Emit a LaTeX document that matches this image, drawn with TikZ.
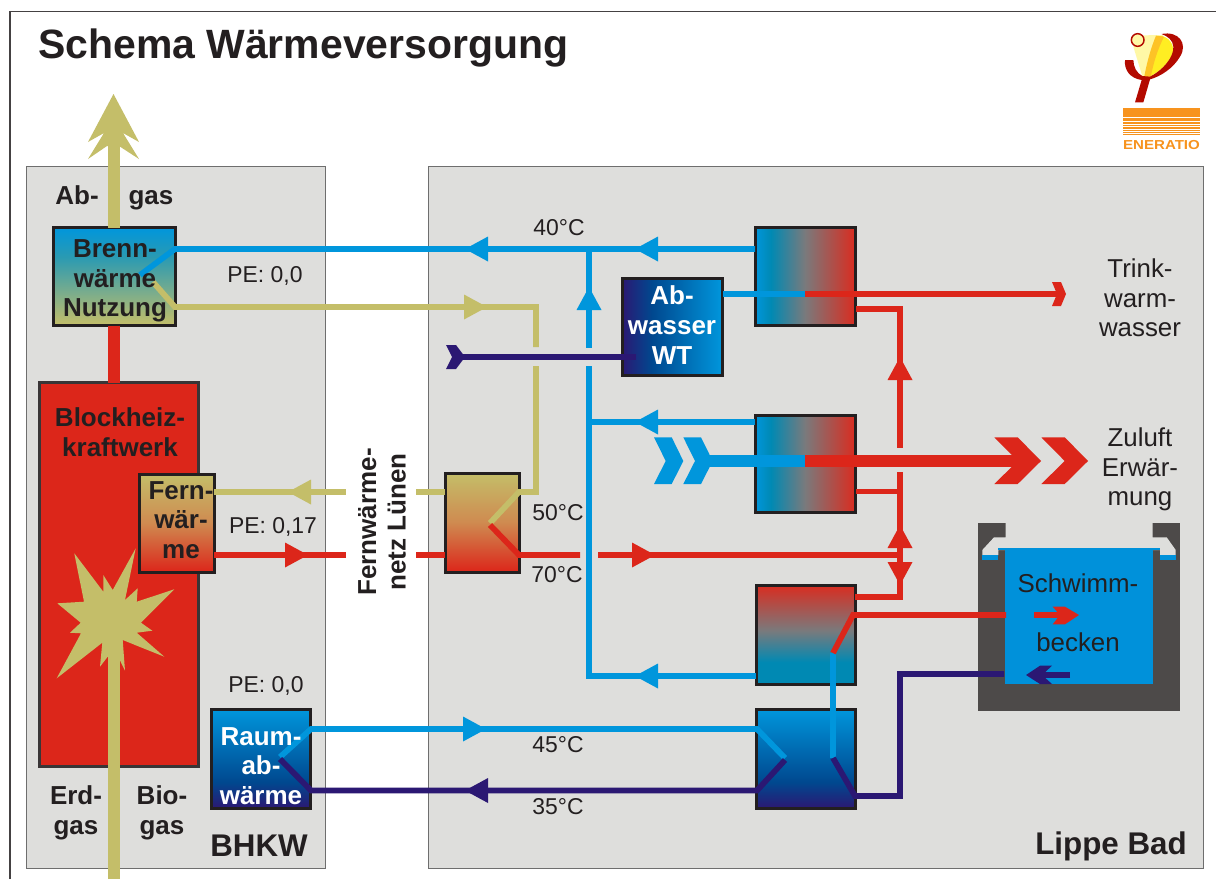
\documentclass[tikz,border=0pt]{standalone}
\usepackage{fontspec}
\usepackage{graphicx}
\setmainfont{Liberation Sans}
\definecolor{cblue}{HTML}{0096DC}
\definecolor{cdark}{HTML}{2B1873}
\definecolor{cred}{HTML}{DC261A}
\definecolor{colive}{HTML}{C4BE69}
\definecolor{cpanel}{HTML}{DEDEDC}
\definecolor{cink}{HTML}{231F20}
\definecolor{cpool}{HTML}{4D4A49}
\definecolor{cwater}{HTML}{0091DA}
\definecolor{cframe}{HTML}{6E6E6E}
\definecolor{lred}{HTML}{B30A00}
\definecolor{lpale}{HTML}{FFF8A6}
\definecolor{lyel}{HTML}{FFEE22}
\definecolor{lorg}{HTML}{FDC326}
\definecolor{lstripe}{HTML}{F7931E}
\definecolor{tealx}{HTML}{0089B3}
\definecolor{grayx}{HTML}{7A7A7C}
\definecolor{redx}{HTML}{D92C20}
\definecolor{navyx}{HTML}{00488F}
\definecolor{tealb}{HTML}{2A9AB2}
\definecolor{orgx}{HTML}{CF8A50}
\pgfdeclarehorizontalshading{shxh}{100bp}{color(0bp)=(cblue);color(25bp)=(cblue);color(33bp)=(tealx);color(50bp)=(grayx);color(75bp)=(redx);color(100bp)=(redx)}
\pgfdeclareverticalshading{shxv}{100bp}{color(0bp)=(tealx);color(25bp)=(tealx);color(36bp)=(tealx);color(52bp)=(grayx);color(75bp)=(redx);color(100bp)=(redx)}
\pgfdeclareverticalshading{scold}{100bp}{color(0bp)=(cdark);color(25bp)=(cdark);color(38bp)=(navyx);color(75bp)=(cblue);color(100bp)=(cblue)}
\pgfdeclarehorizontalshading{swaste}{100bp}{color(0bp)=(cdark);color(25bp)=(cdark);color(40bp)=(navyx);color(75bp)=(cblue);color(100bp)=(cblue)}
\pgfdeclareverticalshading{sbrenn}{100bp}{color(0bp)=(colive);color(25bp)=(colive);color(60bp)=(tealb);color(75bp)=(cblue);color(100bp)=(cblue)}
\pgfdeclareverticalshading{sfern}{100bp}{color(0bp)=(cred);color(25bp)=(cred);color(50bp)=(orgx);color(75bp)=(colive);color(100bp)=(colive)}
\newcommand\flowtri[3]{\fill[#1,shift={(#2)},rotate=#3] (0,0)--(-23,12.5)--(-23,-12.5)--cycle;}
\tikzset{
  panel/.style={draw=cframe,fill=cpanel,line width=0.7pt},
  boxed/.style 2 args={draw=cink,line width=2.25pt,inner sep=0pt,outer sep=0pt,minimum width=#1*0.75pt,minimum height=#2*0.75pt},
  pipe/.style={line width=4.3pt},
  shaft/.style={line width=9pt},
  bold lab/.style={font=\fontsize{19.5}{22.2}\selectfont\bfseries,align=center,inner sep=0pt,text=cink},
  white lab/.style={font=\fontsize{19.5}{22.2}\selectfont\bfseries,align=center,inner sep=0pt,text=white},
  plain lab/.style={font=\fontsize{19.4}{22}\selectfont,align=center,inner sep=0pt,text=cink},
  small lab/.style={font=\fontsize{17.2}{20}\selectfont,inner sep=0pt,text=cink},
  big lab/.style={font=\fontsize{23.5}{26}\selectfont\bfseries,inner sep=0pt,text=cink},
}
\begin{document}
\begin{tikzpicture}[x=0.75pt,y=-0.75pt]
\useasboundingbox (0,0) rectangle (1216,879);
\fill[white] (0,0) rectangle (1216,879);
\draw[cink!85,line width=0.9pt] (10,879) -- (10,11.5) -- (1216,11.5);
% panels
\node[panel,inner sep=0pt,outer sep=0pt,minimum width=299*0.75pt,minimum height=702*0.75pt] (pbhkw) at (175.5,517) {};
\node[panel,inner sep=0pt,outer sep=0pt,minimum width=775*0.75pt,minimum height=702*0.75pt] (plippe) at (815.5,517) {};
% main plant
\node[boxed={159}{384},fill=cred,draw=cink!90] (bhkw) at (118.5,574.5) {};
% stack and gas
\node[boxed={122}{98},shading=sbrenn] (brenn) at (114,276.5) {};
\coordinate (abtop) at (113.5,140);
\draw[colive,shaft] (abtop) -- (brenn.north -| abtop);
\fill[colive] (113.5,94)--(139,142)--(123,133)--(139,159)--(119,146)--(107,146)--(88,159)--(104,133)--(88,142)--cycle;
\draw[cred,shaft] (brenn.south) -- (brenn.south |- bhkw.north);
% burner star
\fill[colive] (74.3,553.3)--(103.3,591.7)--(103.3,575)--(112.7,590)--(135.7,548.3)--(125,600)--(137.7,588.3)--(136.7,601.7)--(174.3,589.3)--(141,622.7)--(152.3,630.7)--(136.7,632.7)--(164.3,656.7)--(122.7,640)--(125,670.7)--(119.3,659)--(107.7,656.7)--(100,666.7)--(102.3,642.7)--(56.7,678.3)--(81,633.3)--(70,632.7)--(80.7,622.7)--(57.3,603.3)--(84,601.7)--cycle;
\coordinate (gasin) at (113.5,879);
\coordinate (gasend) at (113.5,625);
\draw[colive,shaft] (gasin) -- (gasend);
% boxes
\node[boxed={75}{98},shading=sfern] (fern) at (176.5,523) {};
\node[boxed={99}{99},shading=scold] (raum) at (260.5,758.5) {};
\node[boxed={74}{99},shading=sfern] (fw) at (482,522.5) {};
\node[boxed={100}{97},shading=swaste] (abw) at (672,326.5) {};
\node[boxed={100}{98},shading=shxh] (hx1) at (805,276) {};
\node[boxed={100}{97},shading=shxh] (hx2) at (805,463.5) {};
\node[boxed={99}{99},shading=shxv] (hx3) at (805.5,634.5) {};
\node[boxed={99}{99},shading=scold] (hx4) at (805.5,758.5) {};
% pool
\node[fill=cpool,inner sep=0pt,outer sep=0pt,minimum width=202*0.75pt,minimum height=188*0.75pt] (pool) at (1079,617) {};
\fill[cpanel] (1005.7,523)--(1005.7,537.3)--(994,537.3)--(982.3,550)--(982.3,555)--(998.3,555)--(998.3,550)--(1160,550)--(1160,555)--(1175.7,555)--(1175.7,550)--(1166.7,537.3)--(1152.7,537.3)--(1152.7,523)--cycle;
\fill[cwater] (982.3,555) rectangle (998.3,560);
\fill[cwater] (1160,555) rectangle (1175.7,560);
\draw[cwater,line width=0.8pt] (998.3,549) -- (1160,549);
\node[fill=cwater,inner sep=0pt,outer sep=0pt,minimum width=148*0.75pt,minimum height=135*0.75pt] (water) at (1079,616.5) {};
% coordinates of the pipes
\coordinate (bwb) at (140,275);
\coordinate (bwbo) at (175,249);
\coordinate (bwo) at (153,282);
\coordinate (bwoo) at (175,307);
\coordinate (ocor) at (536,307);
\coordinate (ogap1) at (536,347);
\coordinate (ogap2) at (536,366);
\coordinate (ofw) at (536,492);
\coordinate (fwo) at (519,492);
\coordinate (fwi) at (490,523);
\coordinate (fwj) at (490,525);
\coordinate (fwr) at (519,555);
\coordinate (rgap1) at (580,555);
\coordinate (rgap2) at (598,555);
\coordinate (rend) at (897,555);
\coordinate (lg1) at (346,492);
\coordinate (lg2) at (416,492);
\coordinate (lr1) at (346,555);
\coordinate (lr2) at (416,555);
\coordinate (bv) at (589,249);
\coordinate (bvg1) at (589,348);
\coordinate (bvg2) at (589,366);
\coordinate (bvb) at (589,676);
\coordinate (bv2) at (589,422);
\coordinate (dk0) at (461,357);
\coordinate (dk1) at (636,357);
\coordinate (t1) at (723,294);
\coordinate (t2) at (805,294);
\coordinate (t3) at (1060,294);
\coordinate (hx1r) at (856,309);
\coordinate (rv1) at (900,309);
\coordinate (rv2) at (900,448);
\coordinate (rv3) at (900,472);
\coordinate (rv4) at (900,597);
\coordinate (hx2r) at (856,491.5);
\coordinate (th1) at (705,461);
\coordinate (th2) at (805,461);
\coordinate (th3) at (1020,461);
\coordinate (p1) at (833,653);
\coordinate (p2) at (853,615);
\coordinate (p3) at (1006,615);
\coordinate (p4) at (833,758);
\coordinate (p5) at (855,796);
\coordinate (p6) at (900,796);
\coordinate (p7) at (900,674);
\coordinate (p8) at (1004,674);
\coordinate (ra1) at (280,757);
\coordinate (ra2) at (311,729);
\coordinate (ra3) at (757,729);
\coordinate (ra4) at (785,758);
\coordinate (rd1) at (280,759);
\coordinate (rd2) at (311,790.5);
\coordinate (rd3) at (757,790.5);
\coordinate (rd4) at (785,760);
% olive
\draw[colive,pipe] (bwo) -- (bwoo) -- (ocor) -- (ogap1);
\draw[colive,pipe] (ogap2) -- (ofw) -- (fwo) -- (fwi);
\draw[colive,pipe] (fern.east |- lg1) -- (lg1);
\draw[colive,pipe] (lg2) -- (fw.west |- lg2);
\flowtri{colive}{487,307}{0}
\flowtri{colive}{288,492}{180}
% blue
\draw[cblue,pipe] (bwb) -- (bwbo) -- (hx1.west |- bwbo);
\draw[cblue,pipe] (bv) -- (bvg1);
\draw[cblue,pipe] (bvg2) -- (bvb) -- (hx3.west |- bvb);
\draw[cblue,pipe] (bv2) -- (hx2.west |- bv2);
\flowtri{cblue}{465,249}{180}
\flowtri{cblue}{635,249}{180}
\flowtri{cblue}{589,287}{90}
\flowtri{cblue}{635,422}{180}
\flowtri{cblue}{635,676}{180}
\draw[cblue,pipe] (t1) -- (t2);
\draw[cblue,shaft] (th1) -- (th2);
\fill[cblue] (654,437.3)--(671.7,437.3)--(683.3,461)--(671.7,484)--(654,484)--(665.7,461)--cycle;
\fill[cblue] (683.3,437.3)--(701,437.3)--(712.7,461)--(701,484)--(683.3,484)--(695,461)--cycle;
\draw[cblue,pipe] (ra1) -- (ra2) -- (ra3) -- (ra4);
\flowtri{cblue}{486,729}{0}
\draw[cblue,pipe] (p1) -- (p4);
% dark blue
\draw[cdark,pipe] (dk0) -- (dk1);
\fill[cdark] (446,345)--(456,345)--(465,357)--(456,369)--(446,369)--(452,357)--cycle;
\draw[cdark,pipe] (rd1) -- (rd2) -- (rd3) -- (rd4);
\flowtri{cdark}{465,790.5}{180}
\draw[cdark,pipe] (p4) -- (p5) -- (p6) -- (p7) -- (p8);
% red
\draw[cred,pipe] (fwj) -- (fwr) -- (rgap1);
\draw[cred,pipe] (rgap2) -- (rend);
\draw[cred,pipe] (fern.east |- lr1) -- (lr1);
\draw[cred,pipe] (lr2) -- (fw.west |- lr2);
\flowtri{cred}{308,555}{0}
\flowtri{cred}{655,555}{0}
\draw[cred,pipe] (t2) -- (t3);
\fill[cred] (1052,282)--(1061,282)--(1066,294)--(1061,306)--(1052,306)--(1057,294)--cycle;
\draw[cred,pipe] (hx1r) -- (rv1) -- (rv2);
\draw[cred,pipe] (rv3) -- (rv4) -- (hx3.east |- rv4);
\draw[cred,pipe] (hx2r) -- (hx2r -| rv1);
\flowtri{cred}{900,357}{90}
\flowtri{cred}{900,525}{90}
\flowtri{cred}{900,585}{-90}
\draw[cred,shaft] (th2) -- (th3);
\fill[cred] (994.3,437.3)--(1017.7,437.3)--(1041,461)--(1017.7,484)--(994.3,484)--(1017.7,461)--cycle;
\fill[cred] (1041.3,437.3)--(1064.7,437.3)--(1088,461)--(1064.7,484)--(1041.3,484)--(1064.7,461)--cycle;
\draw[cred,pipe] (p1) -- (p2) -- (p3);
% pool arrows
\draw[cred,pipe] (1034,615) -- (1062,615);
\fill[cred] (1052.7,606.7)--(1065,606.7)--(1079,615)--(1065,624.3)--(1052.7,624.3)--(1060,615)--cycle;
\draw[cdark,pipe] (1070,675) -- (1040,675);
\fill[cdark] (1026,675)--(1040,665.7)--(1052,665.7)--(1042,675)--(1052,684)--(1040,684)--cycle;
% logo
\begin{scope}[shift={(1100,20)},x=0.25pt,y=-0.25pt]
\fill[lpale] (100,80) -- (130,46) -- (190,45) -- (145,176) -- (128,172) -- cycle;
\fill[lyel] (175,48) .. controls (205,45) and (225,75) .. (218,100) .. controls (205,135) and (170,160) .. (145,172) .. controls (150,120) and (165,80) .. (175,48) -- cycle;
\fill[lorg] (168,47) -- (192,50) .. controls (172,90) and (160,130) .. (152,172) -- (132,174) .. controls (140,130) and (152,85) .. (168,47) -- cycle;
\fill[lred] (185,42) .. controls (235,32) and (265,70) .. (240,110) .. controls (220,145) and (180,170) .. (150,178) -- (130,247) -- (105,247) -- (125,180) .. controls (90,175) and (72,150) .. (75,120) -- (100,120) .. controls (100,140) and (110,160) .. (127,168) -- (150,170) .. controls (190,150) and (222,110) .. (220,80) .. controls (218,60) and (205,50) .. (185,42) -- cycle;
\draw[lred,fill=lpale,line width=1.1pt] (113,60) circle [radius=19];
\foreach \a/\b in {265/290,293/302,305/311,314/319,322/326,329/332,335/338,341/344}
  \fill[lstripe] (70,\a) rectangle (300,\b);
\end{scope}
\node[font=\fontsize{9.75}{10}\selectfont\bfseries,text=lstripe,inner sep=0pt] (enr) at (1161.5,145) {\scalebox{1.16}[1]{ENERATIO}};
% texts
\node[font=\fontsize{30.7}{32}\selectfont\bfseries,text=cink,inner sep=0pt,anchor=base west] (title) at (38,58) {Schema Wärmeversorgung};
\node[bold lab,anchor=base] (tab1) at (77,204) {Ab-};
\node[bold lab,anchor=base] (tab2) at (151,204) {gas};
\node[bold lab] (tbr) at (115,281) {Brenn-\\wärme\\Nutzung};
\node[bold lab] (tbh) at (120,432) {Blockheiz-\\kraftwerk};
\node[bold lab] (tfe) at (181,520) {Fern-\\wär-\\me};
\node[white lab] (tra) at (261,766) {Raum-\\ab-\\wärme};
\node[white lab] (tab) at (672,325) {Ab-\\wasser\\WT};
\node[bold lab] (ter) at (76,813) {Erd-\\gas};
\node[bold lab] (tbi) at (162,813) {Bio-\\gas};
\node[big lab] (tbk) at (259,846) {BHKW};
\node[big lab] (tlb) at (1111,846) {Lippe Bad};
\node[small lab] (pe1) at (265,276) {PE: 0,0};
\node[small lab] (pe2) at (273,527) {PE: 0,17};
\node[small lab] (pe3) at (266,686) {PE: 0,0};
\node[small lab] (c40) at (559,228) {40°C};
\node[small lab] (c50) at (558,513) {50°C};
\node[small lab] (c70) at (557,575) {70°C};
\node[small lab] (c45) at (558,745) {45°C};
\node[small lab] (c35) at (558,807) {35°C};
\node[plain lab] (ttr) at (1140,298) {Trink-\\warm-\\wasser};
\node[plain lab] (tzu) at (1140,469.5) {Zuluft\\Erwär-\\mung};
\node[plain lab] (tsw) at (1078,583) {Schwimm-};
\node[plain lab] (tbe) at (1078,642) {becken};
\node[bold lab,rotate=90] (tfn) at (382,522) {Fernwärme-\\netz Lünen};
\end{tikzpicture}
\end{document}
